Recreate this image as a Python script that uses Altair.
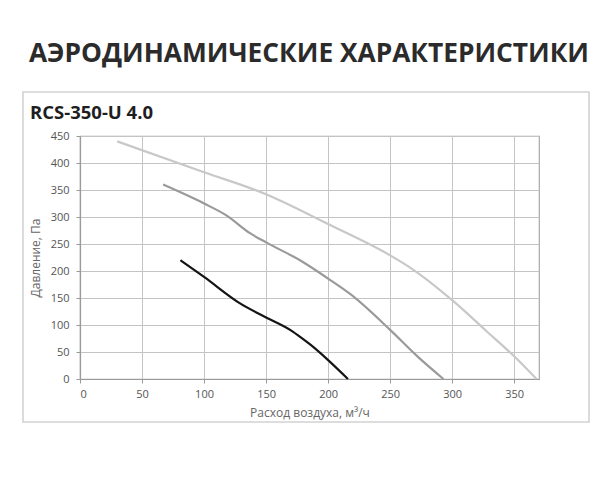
import altair as alt
import pandas as pd

# ---- data ----
light_x = [30, 100, 150, 186, 200, 250, 267, 300, 328, 350, 368]
light_y = [440, 383, 342, 303, 287, 229, 205, 146, 88, 42, 0]
mid_x = [67, 100, 118, 137, 150, 178, 200, 218, 250, 272, 293]
mid_y = [360, 325, 303, 270, 253, 219, 186, 157, 91, 42, 0]
dark_x = [81, 100, 129, 150, 170, 178, 186, 200, 216]
dark_y = [220, 189, 140, 114, 90, 77, 63, 35, 0]

series_names = ["high", "mid", "low"]
series_colors = ["#c8c8c8", "#9a9a9a", "#141414"]

x_ticks = [0, 50, 100, 150, 200, 250, 300, 350]
y_ticks = [0, 50, 100, 150, 200, 250, 300, 350, 400, 450]

main_title = "АЭРОДИНАМИЧЕСКИЕ ХАРАКТЕРИСТИКИ"
sub_title = "RCS-350-U 4.0"
x_title = "Расход воздуха, м³/ч"
y_title = "Давление, Па"

rows = []
for name, xs, ys in zip(series_names, [light_x, mid_x, dark_x], [light_y, mid_y, dark_y]):
    for i, (a, b) in enumerate(zip(xs, ys)):
        rows.append({"series": name, "q": a, "p": b, "order": i})
df = pd.DataFrame(rows)

W, H = 459, 243

lines = alt.Chart(df).mark_line(strokeWidth=2.2, interpolate="monotone").encode(
    x=alt.X("q:Q", scale=alt.Scale(domain=[0, 370], nice=False, zero=False),
            axis=alt.Axis(values=x_ticks, title=x_title, tickSize=4, labelPadding=5,
                          titlePadding=8)),
    y=alt.Y("p:Q", scale=alt.Scale(domain=[0, 450], nice=False),
            axis=alt.Axis(values=y_ticks, title=y_title, tickSize=4, labelPadding=7,
                          titlePadding=8)),
    color=alt.Color("series:N", scale=alt.Scale(domain=series_names, range=series_colors),
                    legend=None),
    order="order:Q",
    detail="series:N",
)

one = pd.DataFrame({"a": [0]})

box = alt.Chart(one).mark_rect(fill=None, stroke="#d2d2d2", strokeWidth=1.6).encode(
    x=alt.value(-57), x2=alt.value(509), y=alt.value(-44), y2=alt.value(286)
)

title_mark = alt.Chart(one).mark_text(
    text=main_title, font="Open Sans", fontWeight="bold", fontSize=26.3,
    color="#2b2b2b", align="center", baseline="alphabetic"
).encode(x=alt.value(229), y=alt.value(-74))

sub_mark = alt.Chart(one).mark_text(
    text=sub_title, font="Open Sans", fontWeight="bold", fontSize=18.5,
    color="#1e1e1e", align="left", baseline="alphabetic"
).encode(x=alt.value(-50), y=alt.value(-17))

chart = alt.layer(box, lines, title_mark, sub_mark).properties(
    width=W, height=H,
    autosize=alt.AutoSizeParams(type="none"),
    padding={"left": 72, "top": 128, "right": 66, "bottom": 110},
).configure_view(
    stroke="#a8a8a8", strokeWidth=1.2
).configure_axis(
    labelFont="Open Sans", labelFontSize=11, labelColor="#555555",
    titleFont="Open Sans", titleFontSize=12, titleColor="#666666", titleFontWeight="normal",
    gridColor="#c4c4c4", gridWidth=1, domainColor="#9a9a9a", domainWidth=1.2,
    tickColor="#9a9a9a",
)

chart.save("out.html", embed_options={"renderer": "svg", "actions": False})
